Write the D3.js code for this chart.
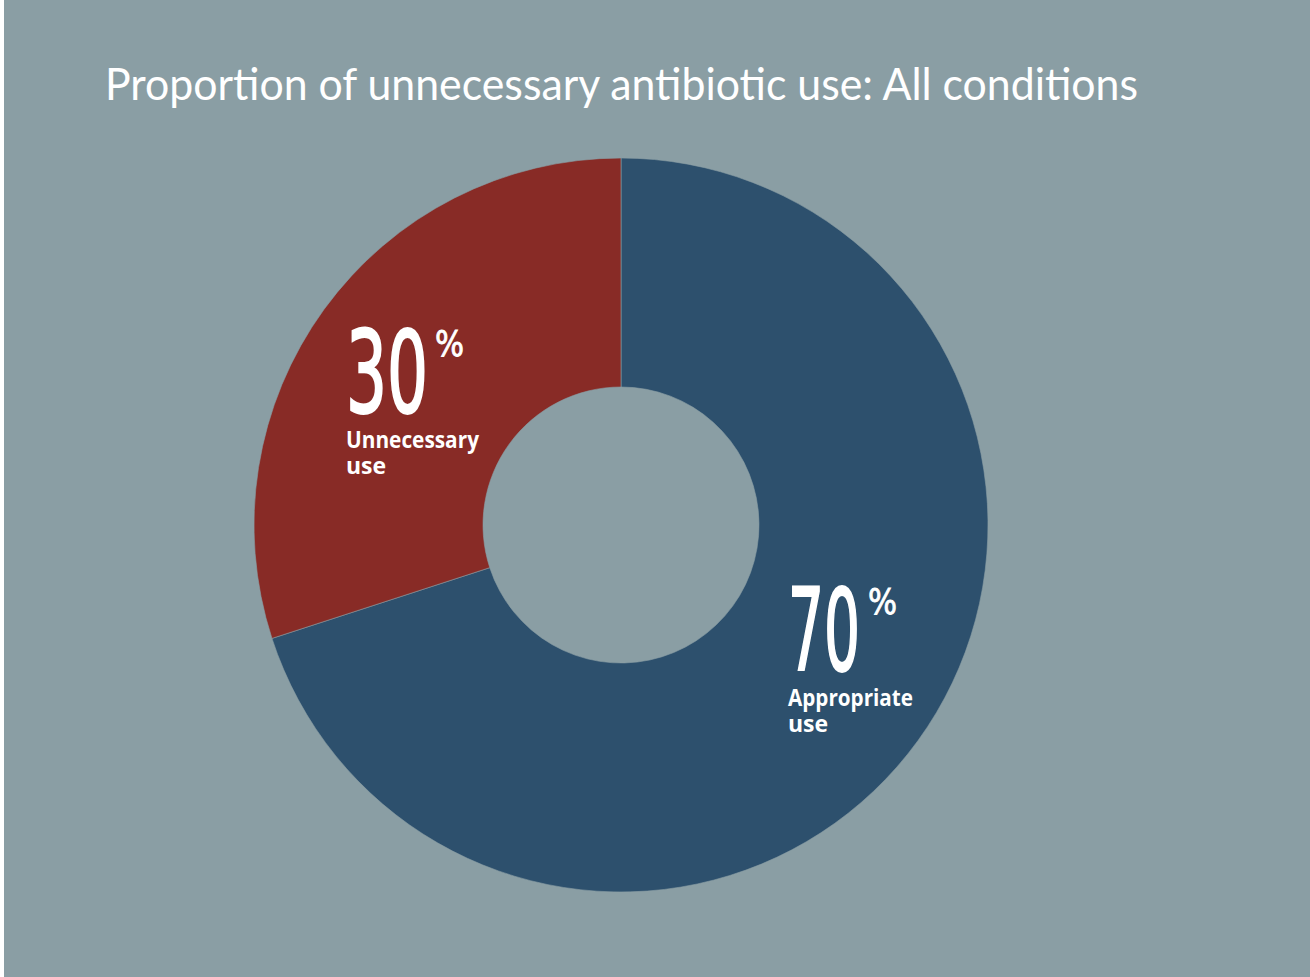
<!DOCTYPE html>
<html><head><meta charset="utf-8">
<script src="https://cdn.jsdelivr.net/npm/d3@7"></script>
<style>html,body{margin:0;padding:0;background:#fff;}svg{display:block;}</style>
</head><body>
<svg id="chart" width="1310" height="977"></svg>
<script>
const title = "Proportion of unnecessary antibiotic use: All conditions";
const categories = ["Appropriate", "Unnecessary"];
const values = [70, 30];
const colors = ["#2d506d", "#882b26"];

const svg = d3.select("#chart");
const W = 1310, H = 977;
svg.append("rect").attr("x", 4).attr("y", 0).attr("width", W - 4).attr("height", H).attr("fill", "#8a9ea4");

svg.append("text").attr("x", 105).attr("y", 100)
  .attr("fill", "#fff").attr("font-family", "Lato, 'Open Sans', sans-serif")
  .attr("font-size", 44).attr("textLength", 1033).attr("lengthAdjust", "spacingAndGlyphs")
  .text(title);

const cx = 621, cy = 525, rOuter = 367, rInner = 138;
const pie = d3.pie().sort(null).value(d => d.v);
const arc = d3.arc().innerRadius(rInner).outerRadius(rOuter);
const data = pie(categories.map((c, i) => ({c, v: values[i], color: colors[i]})));
const g = svg.append("g").attr("transform", `translate(${cx},${cy})`);
g.selectAll("path").data(data).join("path")
  .attr("d", arc).attr("fill", d => d.data.color)
  .attr("stroke", "#8a9ea4").attr("stroke-width", 0.6);

// labels: offsets relative to centre
const labelPos = [{x: 167, y: 145}, {x: -275, y: -113}];
data.forEach((d, i) => {
  const p = labelPos[i];
  const lg = g.append("g").attr("transform", `translate(${p.x},${p.y})`).attr("fill", "#fff")
    .attr("font-family", "'Liberation Sans Narrow', 'DejaVu Sans Condensed', 'Liberation Sans', sans-serif");
  lg.append("text").attr("x", 0).attr("y", 0).attr("font-size", 114).attr("font-weight", 400)
    .attr("stroke", "#fff").attr("stroke-width", 2.2)
    .attr("textLength", i === 0 ? 72 : 82).attr("lengthAdjust", "spacingAndGlyphs")
    .text(d.data.v);
  lg.append("text").attr("x", i === 0 ? 80 : 89).attr("y", -56).attr("font-size", 36)
    .attr("stroke", "#fff").attr("stroke-width", 0.8)
    .attr("textLength", 29).attr("lengthAdjust", "spacingAndGlyphs").text("%");
  lg.append("text").attr("x", 0).attr("y", 36).attr("font-size", 23).attr("font-weight", 700)
    .attr("font-family", "'Liberation Sans Narrow', 'Open Sans', sans-serif")
    .attr("textLength", i === 0 ? 125 : 133).attr("lengthAdjust", "spacingAndGlyphs")
    .text(d.data.c);
  lg.append("text").attr("x", 0).attr("y", 62).attr("font-size", 23).attr("font-weight", 700)
    .attr("font-family", "'Liberation Sans Narrow', 'Open Sans', sans-serif")
    .text("use");
});
</script>
</body></html>
